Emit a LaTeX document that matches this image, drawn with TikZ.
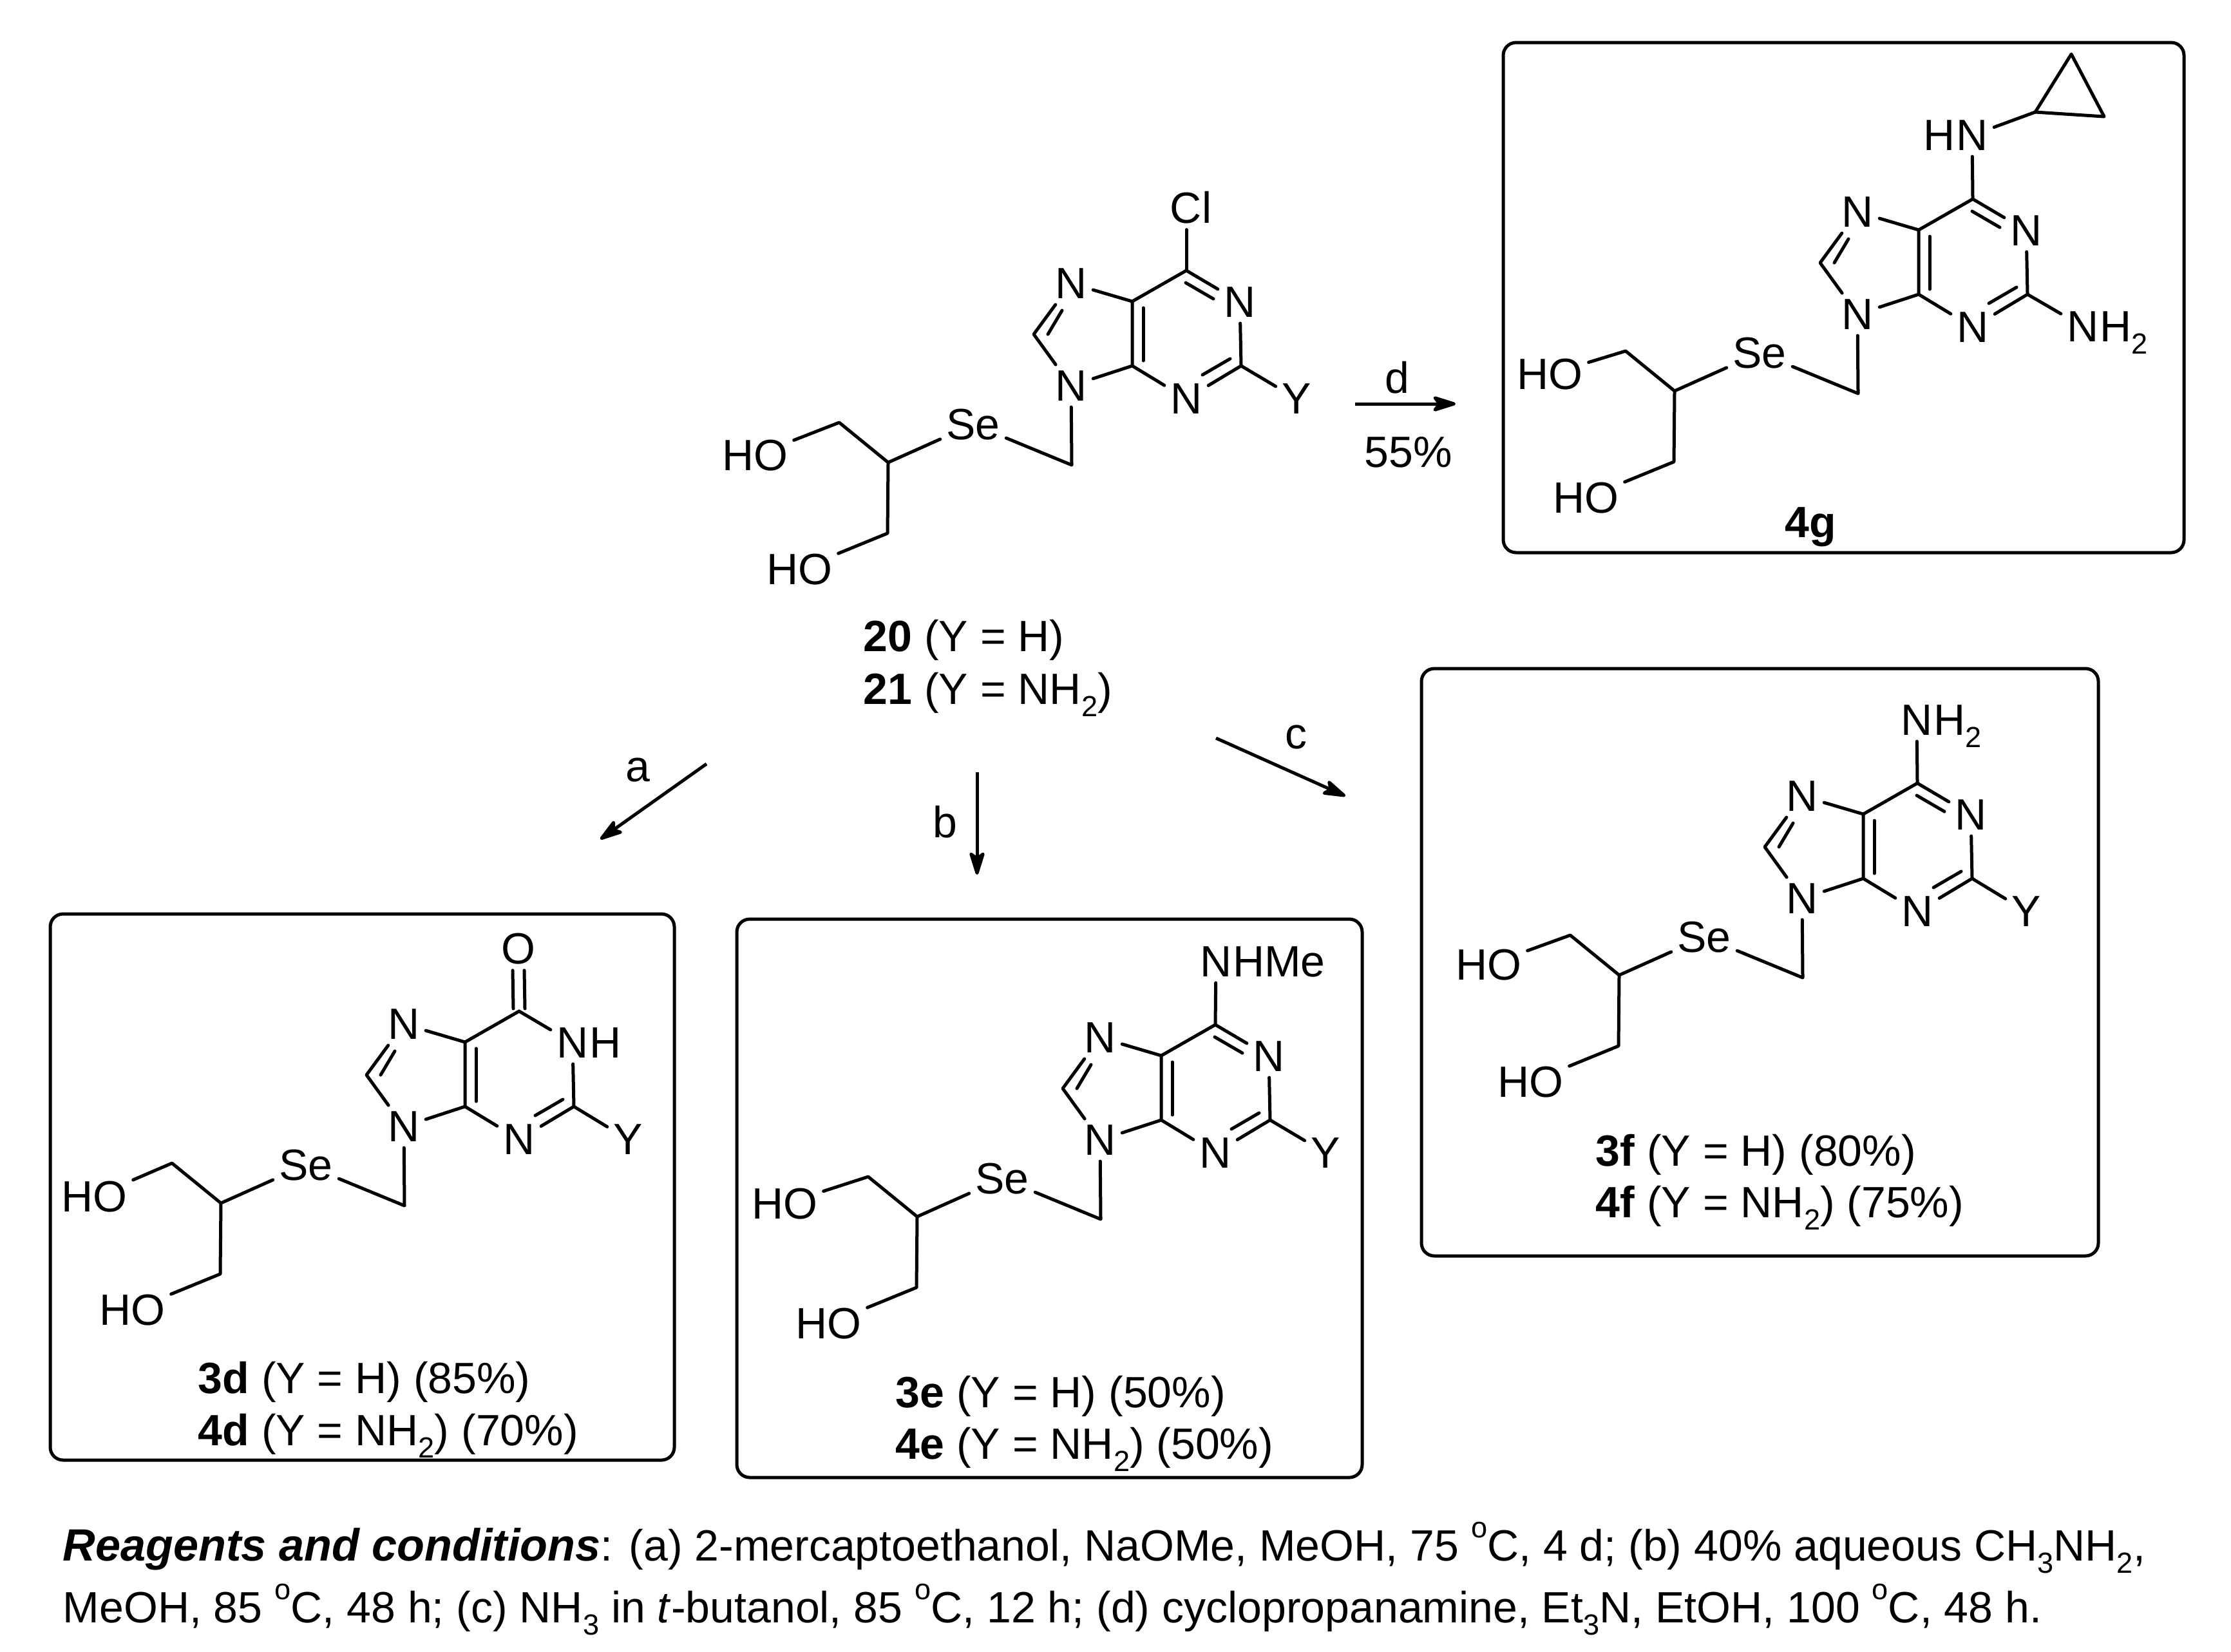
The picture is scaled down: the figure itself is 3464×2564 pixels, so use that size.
\documentclass[tikz,border=0pt]{standalone}
\usepackage{fontspec}
\setmainfont{Liberation Sans}
\usetikzlibrary{arrows.meta,calc}
\newcommand{\subs}[1]{\raisebox{-0.28em}{\fontsize{11.3}{12}\selectfont #1}}
\newcommand{\sups}[1]{\raisebox{0.52em}{\fontsize{11.3}{12}\selectfont #1}}
\tikzset{
  every node/.style={font=\fontsize{17}{20}\selectfont},
  atom/.style={inner sep=2.2pt},
  tailr/.style={inner sep=0pt,anchor=base west,xshift=-2.2pt},
  taill/.style={inner sep=0pt,anchor=base east,xshift=2.2pt},
  bond/.style={line width=1.25pt,line join=round,line cap=round},
  frame/.style={line width=1.25pt,rounded corners=5pt},
  rxn/.style={line width=1.25pt,-{Stealth[length=11pt,width=6.8pt,inset=2.5pt,round]}},
  txt/.style={inner sep=0pt,anchor=base west},
  lbl/.style={inner sep=0pt,anchor=base},
}
% #1 prefix, #2 origin, #3 upper HO position, #4 extra drawing
\newcommand{\purine}[4]{%
\begin{scope}[shift={(#2)},name prefix=#1-]
  \coordinate (c5) at (0,0);
  \coordinate (c4) at (0,100);
  \coordinate (c6) at (84,-48);
  \coordinate (c2) at (169,100);
  \coordinate (c8) at (-153,51);
  \coordinate (ch2) at (-94,254);
  \coordinate (ch) at (-379,250);
  \coordinate (chu) at (-455,188);
  \coordinate (chl) at (-380,360);
  \node[atom] (n1) at (167,1) {N};
  \node[atom] (n3) at (84,151) {N};
  \node[atom] (n7) at (-95,-28) {N};
  \node[atom] (n9) at (-95,131) {N};
  \node[atom] (se) at (-247,191) {Se};
  \node[atom] (hou) at (#3) {HO};
  \node[atom] (hol) at (-517,416) {HO};
  \coordinate (ia) at (17,10);
  \coordinate (ib) at (17,92);
  \coordinate (ic) at (152,89);
  \coordinate (id) at (109,114);
  \coordinate (ie) at (-109,14);
  \coordinate (if) at (-131,51);
  \draw[bond] (n7) -- (c5) -- (c6);
  \draw[bond] (c5) -- (c4) -- (n9);
  \draw[bond] (c4) -- (n3);
  \draw[bond] (n3) -- (c2);
  \draw[bond] (n1) -- (c2);
  \draw[bond] (n7) -- (c8) -- (n9);
  \draw[bond] (n9) -- (ch2) -- (se);
  \draw[bond] (se) -- (ch) -- (chu) -- (hou);
  \draw[bond] (ch) -- (chl) -- (hol);
  \draw[bond] (ia) -- (ib);
  \draw[bond] (ic) -- (id);
  \draw[bond] (ie) -- (if);
  #4
\end{scope}}
\newcommand{\cndouble}{%
  \coordinate (ig) at (83,-29);
  \coordinate (ih) at (126,-4);
  \draw[bond] (c6) -- (n1);
  \draw[bond] (ig) -- (ih);}
\begin{document}
\begin{tikzpicture}[x=0.25pt,y=-0.25pt]
\fill[white] (0,0) rectangle (3464,2564);
\useasboundingbox (0,0) rectangle (3464,2564);

% frames
\draw[frame] (2334,66) rectangle (3391,858);
\draw[frame] (2207,1038) rectangle (3258,1950);
\draw[frame] (78,1419) rectangle (1047,2267);
\draw[frame] (1144,1427) rectangle (2115,2294);

% 20 / 21
\purine{m20}{1758,468}{-586,239}{%
  \cndouble
  \node[atom] (cl) at (91,-146) {Cl};
  \node[atom] (y) at (255,151) {Y};
  \draw[bond] (c6) -- (c6 |- cl.south);
  \draw[bond] (c2) -- (y);}
\node[txt] (l20) at (1340,1011) {\textbf{20} (Y = H)};
\node[txt] (l21) at (1340,1093) {\textbf{21} (Y = NH\subs{2})};

% 4g
\purine{m4g}{2979,357}{-573,224}{%
  \cndouble
  \node[atom] (nh) at (83,-147) {N};
  \node[taill] (nhh) at (nh.base west) {H};
  \node[atom] (nb) at (255,150) {N};
  \node[tailr] (nbh) at (nb.base east) {H\subs{2}};
  \coordinate (cpa) at (181,-183);
  \coordinate (cpb) at (237,-273);
  \coordinate (cpc) at (288,-176);
  \draw[bond] (c6) -- (nh);
  \draw[bond] (nh) -- (cpa);
  \draw[bond] (cpa) -- (cpb) -- (cpc) -- cycle;
  \draw[bond] (c2) -- (nb);}
\node[txt] (l4g) at (2771,834) {\textbf{4g}};

% 3f / 4f
\purine{m3f}{2893,1264}{-582,234}{%
  \cndouble
  \node[atom] (n6) at (83,-146) {N};
  \node[tailr] (n6h) at (n6.base east) {H\subs{2}};
  \node[atom] (y) at (253,151) {Y};
  \draw[bond] (c6) -- (n6);
  \draw[bond] (c2) -- (y);}
\node[txt] (l3f) at (2477,1810) {\textbf{3f} (Y = H) (80\%)};
\node[txt] (l4f) at (2477,1890) {\textbf{4f} (Y = NH\subs{2}) (75\%)};

% 3d / 4d
\purine{m3d}{722,1618}{-576,240}{%
  \node[tailr] (h1h) at (n1.base east) {H};
  \node[atom] (o) at (83,-145) {O};
  \node[atom] (y) at (253,151) {Y};
  \draw[bond] (c6) -- (n1);
  \coordinate (oa) at ($(o.south)+(-9,0)$);
  \coordinate (ob) at ($(o.south)+(9,0)$);
  \coordinate (oc) at ($(c6)+(-9,-4)$);
  \coordinate (od) at ($(c6)+(9,-4)$);
  \draw[bond] (oa) -- (oc);
  \draw[bond] (ob) -- (od);
  \draw[bond] (c2) -- (y);}
\node[txt] (l3d) at (307,2163) {\textbf{3d} (Y = H) (85\%)};
\node[txt] (l4d) at (307,2244) {\textbf{4d} (Y = NH\subs{2}) (70\%)};

% 3e / 4e
\purine{m3e}{1803,1639}{-585,230}{%
  \cndouble
  \node[atom] (n6) at (85,-146) {N};
  \node[tailr] (n6h) at (n6.base east) {HMe};
  \node[atom] (y) at (255,151) {Y};
  \draw[bond] (c6) -- (n6);
  \draw[bond] (c2) -- (y);}
\node[txt] (l3e) at (1390,2185) {\textbf{3e} (Y = H) (50\%)};
\node[txt] (l4e) at (1390,2265) {\textbf{4e} (Y = NH\subs{2}) (50\%)};

% reaction arrows
\coordinate (ds) at (2104,627); \coordinate (de) at (2260,627);
\coordinate (as) at (1097,1186); \coordinate (ae) at (932,1303);
\coordinate (bs) at (1517,1199); \coordinate (be) at (1517,1358);
\coordinate (cs) at (1888,1146); \coordinate (ce) at (2089,1236);
\draw[rxn] (ds) -- (de);
\draw[rxn] (as) -- (ae);
\draw[rxn] (bs) -- (be);
\draw[rxn] (cs) -- (ce);
\node[lbl] (ld) at (2169,610) {d};
\node[lbl] (ly) at (2187,725) {55\%};
\node (la) at (990,1195) {a};
\node (lb) at (1467,1276) {b};
\node (lc) at (2012,1144) {c};

% conditions
\node[txt] (r1) at (97,2423) {{\fontsize{17.55}{20}\selectfont\textbf{\textit{Reagents and conditions}}}: (a) 2-mercaptoethanol, NaOMe, MeOH, 75 \sups{o}C, 4 d; (b) 40\% aqueous CH\subs{3}NH\subs{2},};
\node[txt] (r2) at (97,2519) {MeOH, 85 \sups{o}C, 48 h; (c) NH\subs{3} in \textit{t}-butanol, 85 \sups{o}C, 12 h; (d) cyclopropanamine, Et\subs{3}N, EtOH, 100 \sups{o}C, 48 h.};
\end{tikzpicture}
\end{document}
